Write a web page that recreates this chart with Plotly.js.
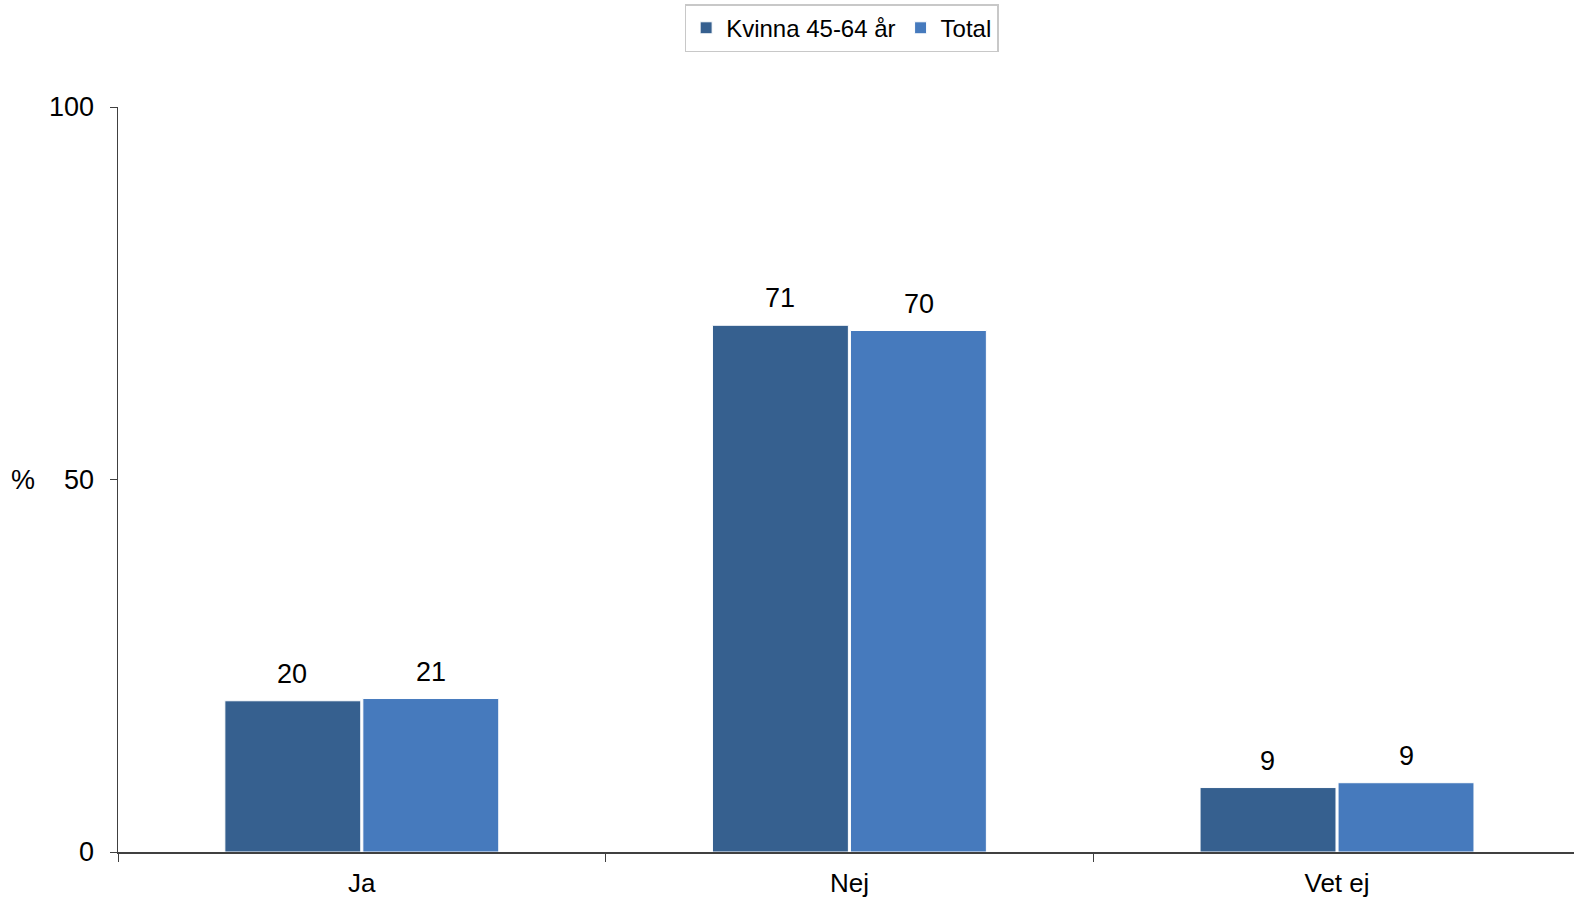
<!DOCTYPE html>
<html>
<head>
<meta charset="utf-8">
<script src="https://cdn.plot.ly/plotly-3.0.1.min.js"></script>
<style>html,body{margin:0;padding:0;background:#fff;}#chart{width:1574px;height:900px;}</style>
</head>
<body>
<div id="chart"></div>
<script>
const categories = ["Ja", "Nej", "Vet ej"];
const seriesNames = ["Kvinna 45-64 år", "Total"];
const kvinnaValues = [20.3, 70.7, 8.65];
const totalValues = [20.6, 70.0, 9.3];
const labelValues = [[20, 71, 9], [21, 70, 9]];
const yTicks = [0, 50, 100];

const colors = ["#36608F", "#467ABD"];
const font = "Liberation Sans, Arial, sans-serif";

const traces = [kvinnaValues, totalValues].map((vals, i) => ({
  type: "bar",
  name: seriesNames[i],
  x: categories,
  y: vals,
  marker: {color: colors[i], line: {color: "#ffffff", width: 1}},
  hoverinfo: "none"
}));

const shifts = [-69.6, 69.6];
const annotations = [];
[kvinnaValues, totalValues].forEach((vals, i) => {
  vals.forEach((v, j) => {
    annotations.push({
      x: categories[j], y: v, xref: "x", yref: "y",
      xshift: shifts[i], yshift: 10,
      yanchor: "bottom", xanchor: "center",
      text: String(labelValues[i][j]), showarrow: false,
      font: {family: font, size: 27, color: "#000"}
    });
  });
});
annotations.push({
  x: -0.065, y: 0.5, xref: "paper", yref: "paper",
  text: "%", showarrow: false, xanchor: "center", yanchor: "middle",
  font: {family: font, size: 27, color: "#000"}
});

const layout = {
  width: 1574, height: 900,
  margin: {l: 118, r: 0, t: 107, b: 48, pad: 0},
  paper_bgcolor: "#fff", plot_bgcolor: "#fff",
  barmode: "group", bargap: 0.434, bargroupgap: 0.015,
  font: {family: font, size: 27, color: "#000"},
  showlegend: true,
  legend: {
    orientation: "h", x: 0.497, xanchor: "center", y: 1.138, yanchor: "top",
    bordercolor: "#c8c8c8", borderwidth: 1.5, bgcolor: "#fff",
    font: {family: font, size: 24, color: "#000"},
    itemwidth: 30, traceorder: "normal"
  },
  xaxis: {
    type: "category", range: [-0.5, 2.486],
    showline: true, linecolor: "#404040", linewidth: 1.5,
    ticks: "outside", tickson: "boundaries", ticklen: 8, tickcolor: "#404040",
    ticklabelstandoff: 7,
    showgrid: false, zeroline: false,
    tickfont: {family: font, size: 26, color: "#000"}
  },
  yaxis: {
    range: [0, 100], tickvals: yTicks, ticktext: yTicks.map(String),
    showline: true, linecolor: "#404040", linewidth: 1.5,
    ticks: "outside", ticklen: 7, tickcolor: "#404040",
    ticklabelstandoff: 10,
    showgrid: false, zeroline: false,
    tickfont: {family: font, size: 27, color: "#000"}
  },
  annotations: annotations
};

Plotly.newPlot("chart", traces, layout, {displayModeBar: false, staticPlot: true});
</script>
</body>
</html>
